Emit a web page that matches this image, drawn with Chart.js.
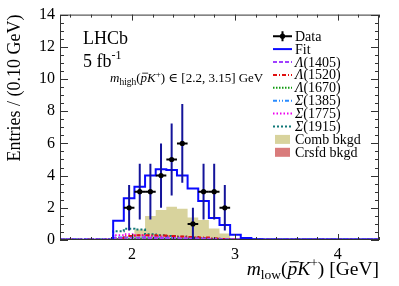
<!DOCTYPE html>
<html><head><meta charset="utf-8">
<script src="https://cdn.jsdelivr.net/npm/chart.js@4"></script>
<style>html,body{margin:0;padding:0;background:#fff;}</style>
</head><body>
<canvas id="c" width="399" height="286" style="width:399px;height:286px;display:block"></canvas>
<script>
// ---------- data ----------
const binLo = 1.3, binHi = 4.4, nBins = 30;
const dataCounts = [0,0,0,0,0,0,2,3,3,4,5,6,1,3,3,2,0,0,0,0,0,0,0,0,0,0,0,0,0,0];
const fitTotal   = [0.02,0.02,0.02,0.02,0.02,1.2,2.6,3.3,4.0,4.4,4.35,4.0,3.2,2.42,1.36,0.93,0.33,0.13,0.04,0.03,0.03,0.03,0.03,0.03,0.03,0.03,0.03,0.03,0.03,0.03];
const combBkgd   = [0,0,0,0,0,0,0,0.65,1.49,1.86,2.07,1.94,1.4,1.24,0.72,0.41,0,0,0,0,0,0,0,0,0,0,0,0,0,0];
const crsfdBkgd  = [0,0,0,0,0,0.06,0.08,0.1,0.1,0.1,0.1,0.1,0.09,0.08,0.07,0.05,0.02,0,0,0,0,0,0,0,0,0,0,0,0,0];
const lambda1405 = [0.03,0.03,0.03,0.03,0.03,0.12,0.14,0.14,0.13,0.12,0.11,0.1,0.09,0.08,0.06,0.05,0.04,0.03,0.03,0.03,0.03,0.03,0.03,0.03,0.03,0.03,0.03,0.03,0.03,0.03];
const lambda1520 = [0.02,0.02,0.02,0.02,0.02,0.12,0.25,0.3,0.3,0.28,0.25,0.22,0.18,0.15,0.1,0.06,0.04,0.02,0.02,0.02,0.02,0.02,0.02,0.02,0.02,0.02,0.02,0.02,0.02,0.02];
const lambda1670 = [0.02,0.02,0.02,0.02,0.02,0.06,0.07,0.07,0.07,0.06,0.06,0.05,0.05,0.04,0.04,0.03,0.02,0.02,0.02,0.02,0.02,0.02,0.02,0.02,0.02,0.02,0.02,0.02,0.02,0.02];
const sigma1385  = [0.03,0.03,0.03,0.03,0.03,0.15,0.17,0.16,0.15,0.13,0.12,0.1,0.08,0.07,0.05,0.04,0.03,0.03,0.03,0.03,0.03,0.03,0.03,0.03,0.03,0.03,0.03,0.03,0.03,0.03];
const sigma1775  = [0.03,0.03,0.03,0.03,0.03,0.3,0.35,0.3,0.25,0.2,0.17,0.14,0.11,0.09,0.07,0.05,0.04,0.03,0.03,0.03,0.03,0.03,0.03,0.03,0.03,0.03,0.03,0.03,0.03,0.03];
const sigma1915  = [0.03,0.03,0.03,0.03,0.03,0.55,0.7,0.65,0.35,0.3,0.25,0.2,0.15,0.12,0.08,0.05,0.04,0.03,0.03,0.03,0.03,0.03,0.03,0.03,0.03,0.03,0.03,0.03,0.03,0.03];
const xTicks = [2, 3, 4];
const yTicks = [0, 2, 4, 6, 8, 10, 12, 14];
const xMinorStep = 0.2, yMinorStep = 0.5;

// ---------- helpers ----------
const binWidth = (binHi - binLo) / nBins;
function histPoints(vals) {
  const pts = vals.map((v, i) => ({x: binLo + i * binWidth, y: v}));
  pts.push({x: binHi, y: vals[vals.length - 1]});
  return pts;
}
const dataPoints = [];
dataCounts.forEach((n, i) => { if (n > 0) dataPoints.push({x: binLo + (i + 0.5) * binWidth, y: n}); });

const SERIF = '"Liberation Serif", "DejaVu Serif", serif';
function fnt(size, it) { return (it ? 'italic ' : '') + size + 'px ' + SERIF; }
function S(t, size, o) { return Object.assign({t, size}, o || {}); }
function drawRich(ctx, x, y, segs, align) {
  let total = 0;
  for (const s of segs) { ctx.font = fnt(s.size, s.it); s.w = ctx.measureText(s.t).width; total += s.w; }
  let cx = align === 'right' ? x - total : x;
  ctx.textAlign = 'left'; ctx.textBaseline = 'alphabetic'; ctx.fillStyle = '#000';
  for (const s of segs) {
    ctx.font = fnt(s.size, s.it);
    ctx.fillText(s.t, cx, y + (s.dy || 0));
    if (s.over) {
      ctx.strokeStyle = '#000'; ctx.lineWidth = Math.max(0.8, s.size / 18);
      ctx.beginPath();
      const oy = y - s.size * 0.68;
      ctx.moveTo(cx + s.size * 0.12, oy); ctx.lineTo(cx + s.w + s.size * 0.08, oy); ctx.stroke();
    }
    cx += s.w;
  }
}

const compStyles = [
  {label: 'Λ', num: '(1405)', data: lambda1405, color: '#a040ff', dash: [4, 2]},
  {label: 'Λ', num: '(1520)', data: lambda1520, color: '#e01010', dash: [4, 2, 1, 2]},
  {label: 'Λ', num: '(1670)', data: lambda1670, color: '#109a10', dash: [1.5, 1.5]},
  {label: 'Σ', num: '(1385)', data: sigma1385, color: '#2a8cff', dash: [4, 2, 1, 2, 1, 2]},
  {label: 'Σ', num: '(1775)', data: sigma1775, color: '#ee00ee', dash: [1.5, 2]},
  {label: 'Σ', num: '(1915)', data: sigma1915, color: '#107878', dash: [2, 2]},
];
const combColor = '#d8d39d', crsfdColor = '#d97b7b', fitColor = '#0a0aff';

const datasets = [
  {type: 'scatter', label: 'Data', data: dataPoints, order: 0, pointRadius: 2.6, pointHoverRadius: 2.6,
   pointBackgroundColor: '#000', pointBorderColor: '#000', pointBorderWidth: 0, showLine: false},
  {label: 'Fit', data: histPoints(fitTotal), order: 1, stepped: 'before', borderColor: fitColor,
   borderWidth: 2, pointRadius: 0, fill: false},
];
compStyles.forEach((c, k) => datasets.push({label: c.label + c.num, data: histPoints(c.data), order: 2 + k,
  stepped: 'before', borderColor: c.color, borderWidth: 2, borderDash: c.dash, pointRadius: 0, fill: false}));
datasets.push({label: 'Crsfd bkgd', data: histPoints(crsfdBkgd), order: 9, stepped: 'before',
  borderWidth: 0, borderColor: crsfdColor, backgroundColor: crsfdColor, pointRadius: 0, fill: 'origin'});
datasets.push({label: 'Comb bkgd', data: histPoints(combBkgd), order: 10, stepped: 'before',
  borderWidth: 0, borderColor: combColor, backgroundColor: combColor, pointRadius: 0, fill: 'origin'});

const errorBars = {
  id: 'errorBars',
  beforeDatasetDraw(chart, args) {
    if (args.index !== 0) return;
    const {ctx, scales: {x, y}, chartArea} = chart;
    ctx.save();
    ctx.beginPath(); ctx.rect(chartArea.left, chartArea.top, chartArea.width, chartArea.height); ctx.clip();
    for (const p of dataPoints) {
      const e = Math.sqrt(p.y);
      const px = x.getPixelForValue(p.x), py = y.getPixelForValue(p.y);
      ctx.strokeStyle = '#14149a'; ctx.lineWidth = 2;
      ctx.beginPath(); ctx.moveTo(px, y.getPixelForValue(p.y + e)); ctx.lineTo(px, y.getPixelForValue(p.y - e)); ctx.stroke();
      ctx.strokeStyle = '#000'; ctx.lineWidth = 2;
      ctx.beginPath(); ctx.moveTo(x.getPixelForValue(p.x - binWidth / 2), py); ctx.lineTo(x.getPixelForValue(p.x + binWidth / 2), py); ctx.stroke();
    }
    ctx.restore();
  }
};

const frame = {
  id: 'frame',
  afterDraw(chart) {
    const {ctx, chartArea: a, scales: {x, y}} = chart;
    ctx.save();
    ctx.strokeStyle = '#333'; ctx.lineWidth = 1;
    ctx.strokeRect(a.left + 0.5, a.top + 0.5, a.width - 1, a.height - 1);
    ctx.beginPath();
    for (let v = Math.ceil(binLo / xMinorStep - 1e-9) * xMinorStep; v <= binHi + 1e-9; v += xMinorStep) {
      const major = xTicks.some(t => Math.abs(t - v) < 1e-6);
      const L = major ? 6 : 3;
      const px = Math.round(x.getPixelForValue(v)) + 0.5;
      ctx.moveTo(px, a.bottom); ctx.lineTo(px, a.bottom - L);
      ctx.moveTo(px, a.top); ctx.lineTo(px, a.top + L);
    }
    for (let v = 0; v <= 14 + 1e-9; v += yMinorStep) {
      const major = yTicks.some(t => Math.abs(t - v) < 1e-6);
      const L = major ? 8 : 4;
      const py = Math.round(y.getPixelForValue(v)) + 0.5;
      ctx.moveTo(a.left, py); ctx.lineTo(a.left + L, py);
      ctx.moveTo(a.right, py); ctx.lineTo(a.right - L, py);
    }
    ctx.stroke();

    drawRich(ctx, a.left + 23, 43.5, [S('LHCb', 18)]);
    drawRich(ctx, a.left + 23, 66.5, [S('5 fb', 18), S('-1', 12, {dy: -8})]);
    drawRich(ctx, a.left + 50, 82, [S('m', 13, {it: true}), S('high', 9.5, {dy: 2.5}), S('(', 13),
      S('p', 13, {it: true, over: true}), S('K', 13, {it: true}), S('+', 9, {dy: -5.5}), S(')', 13),
      S(' ∈ ', 13), S('[2.2, 3.15] GeV', 13)]);
    drawRich(ctx, a.right, 275, [S('m', 19.5, {it: true}), S('low', 13.5, {dy: 4}), S('(', 19.5),
      S('p', 19.5, {it: true, over: true}), S('K', 19.5, {it: true}), S('+', 13.5, {dy: -8}), S(')', 19.5),
      S(' [GeV]', 19.5)], 'right');

    const lx0 = 273, lx1 = 292, tx = 295, base0 = 40.7, dy = 12.9;
    const rows = [{kind: 'data', segs: [S('Data', 14)]}, {kind: 'line', color: fitColor, dash: [], segs: [S('Fit', 14)]}];
    compStyles.forEach(c => rows.push({kind: 'line', color: c.color, dash: c.dash,
      segs: [S(c.label, 14, {it: true}), S(c.num, 14)]}));
    rows.push({kind: 'box', color: combColor, segs: [S('Comb bkgd', 14)]});
    rows.push({kind: 'box', color: crsfdColor, segs: [S('Crsfd bkgd', 14)]});
    rows.forEach((r, i) => {
      const b = base0 + i * dy, cy = b - 4.5;
      ctx.save();
      if (r.kind === 'data') {
        ctx.strokeStyle = '#000'; ctx.lineWidth = 2;
        ctx.beginPath(); ctx.moveTo(lx0, cy); ctx.lineTo(lx1, cy); ctx.moveTo((lx0 + lx1) / 2, cy - 5); ctx.lineTo((lx0 + lx1) / 2, cy + 5); ctx.stroke();
        ctx.fillStyle = '#000'; ctx.beginPath(); ctx.arc((lx0 + lx1) / 2, cy, 2.6, 0, Math.PI * 2); ctx.fill();
      } else if (r.kind === 'line') {
        ctx.strokeStyle = r.color; ctx.lineWidth = 2; ctx.setLineDash(r.dash);
        ctx.beginPath(); ctx.moveTo(lx0, cy); ctx.lineTo(lx1, cy); ctx.stroke();
      } else {
        ctx.fillStyle = r.color; ctx.fillRect(lx0 + 2, cy - 4.5, 15, 9);
      }
      ctx.restore();
      drawRich(ctx, tx, b, r.segs);
    });
    ctx.restore();
  }
};

new Chart(document.getElementById('c'), {
  type: 'line',
  data: {datasets},
  options: {
    responsive: false, animation: false, devicePixelRatio: 1,
    layout: {padding: {top: 14, right: 20, left: 0, bottom: 0}},
    plugins: {legend: {display: false}, tooltip: {enabled: false}},
    elements: {line: {tension: 0}},
    scales: {
      x: {type: 'linear', min: binLo, max: binHi,
        afterBuildTicks: s => { s.ticks = xTicks.map(v => ({value: v})); },
        afterFit: s => { s.height = 46; },
        grid: {display: false, drawTicks: false}, border: {display: false},
        ticks: {padding: 5, color: '#000', font: {family: SERIF, size: 16}, callback: v => String(v), maxRotation: 0}},
      y: {type: 'linear', min: 0, max: 14,
        afterBuildTicks: s => { s.ticks = yTicks.map(v => ({value: v})); },
        afterFit: s => { s.width = 60; },
        grid: {display: false, drawTicks: false}, border: {display: false},
        ticks: {padding: 5, color: '#000', font: {family: SERIF, size: 16}, callback: v => String(v)},
        title: {display: true, text: 'Entries / (0.10 GeV)', align: 'end', color: '#000',
          font: {family: SERIF, size: 18}, padding: {top: 4, bottom: 0}}}
    }
  },
  plugins: [errorBars, frame]
});
</script>
</body></html>
